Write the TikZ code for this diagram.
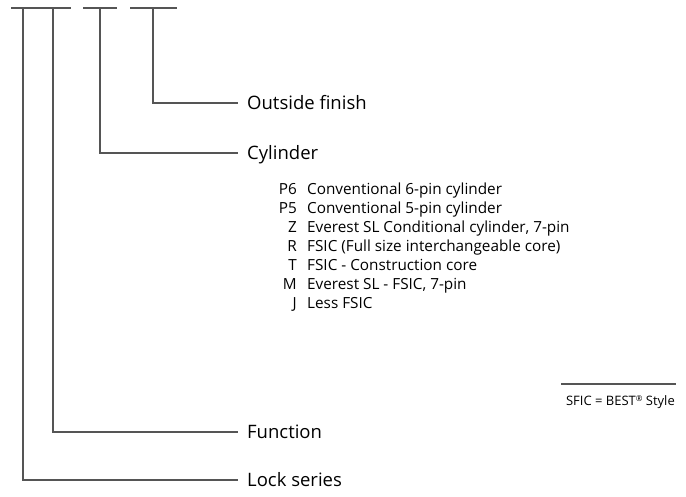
\documentclass[tikz,border=0pt]{standalone}
\usepackage{fontspec}
\setmainfont{Open Sans}[Numbers=Lining]
\usetikzlibrary{calc}

\definecolor{rule}{RGB}{85,85,85}
\tikzset{
    bar/.style={draw=rule,line width=1.6pt},
    head/.style={anchor=west,inner xsep=9pt,inner ysep=0pt,text height=13.2pt,text depth=0pt,
        font=\fontsize{18.5}{19}\selectfont},
    item/.style={inner sep=0pt,text height=11pt,text depth=0pt,font=\fontsize{15.3}{16}\selectfont},
    note/.style={inner sep=0pt,font=\fontsize{13}{14}\selectfont}
}

\begin{document}
\begin{tikzpicture}[x=1pt,y=-1pt]
\useasboundingbox (0,0) rectangle (686,496);

% Top bars
\draw[bar] (11,8) -- (71,8);
\draw[bar] (83,8) -- (117,8);
\draw[bar] (130,8) -- (177,8);

% Drop points
\coordinate (lockTop) at (23,8);
\coordinate (funcTop) at (53,8);
\coordinate (cylTop) at (100,8);
\coordinate (finTop) at (153,8);

% Headings
\node[head] (fin) at (238,103) {Outside finish};
\node[head] (cyl) at (238,153) {Cylinder};
\node[head] (func) at (238,432) {Function};
\node[head] (lock) at (238,480) {Lock series};

% Leaders
\draw[bar] (finTop) |- (fin.west);
\draw[bar] (cylTop) |- (cyl.west);
\draw[bar] (funcTop) |- (func.west);
\draw[bar] (lockTop) |- (lock.west);

% Cylinder codes
\foreach \code/\desc [count=\i] in {
    P6/Conventional 6-pin cylinder,
    P5/Conventional 5-pin cylinder,
    Z/{Everest SL Conditional cylinder, 7-pin},
    R/FSIC (Full size interchangeable core),
    T/FSIC - Construction core,
    M/{Everest SL - FSIC, 7-pin},
    J/Less FSIC}
{
    \node[item,anchor=east] (code\i) at (297,170+19*\i) {\code};
    \node[item,anchor=west] (desc\i) at (307,170+19*\i) {\desc};
}

% Note
\node[note,anchor=north east] (note) at (675,395) {SFIC = BEST\raisebox{0.55ex}{\fontsize{8}{8}\selectfont\textregistered} Style};
\draw[draw=rule,line width=1.2pt] (561,384) -- (676,384);

\end{tikzpicture}
\end{document}
